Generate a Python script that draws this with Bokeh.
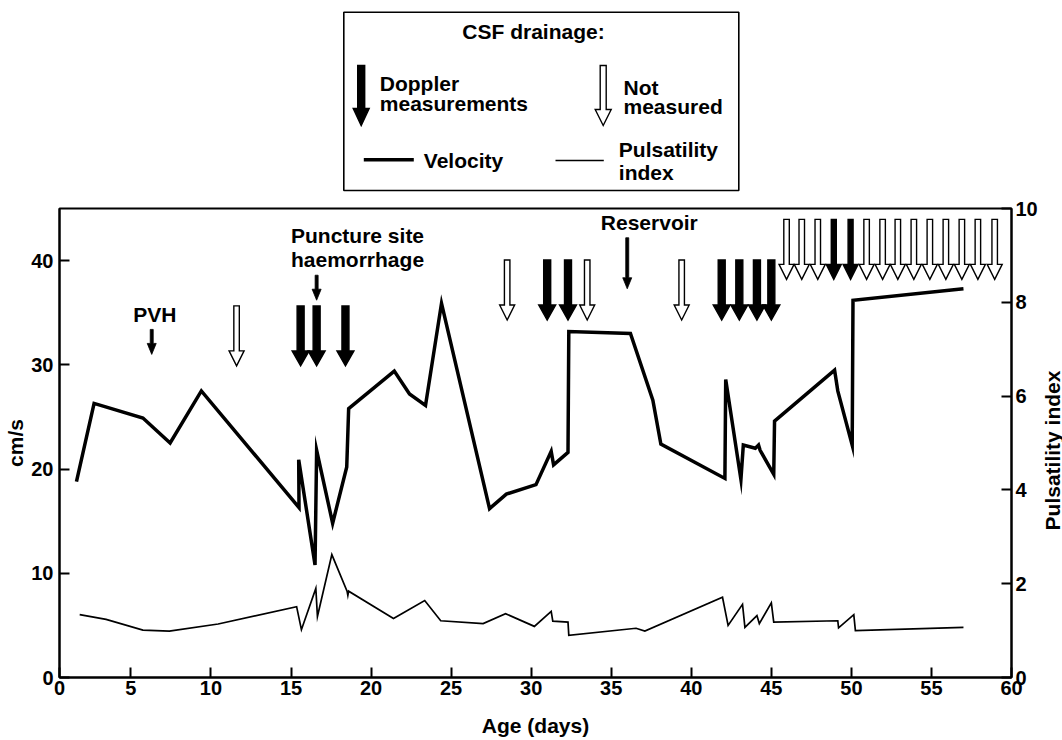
import math
from bokeh.plotting import figure
from bokeh.models import Range1d, LinearAxis, FixedTicker
from bokeh.layouts import column, row
from bokeh.embed import file_html
from bokeh.resources import INLINE
from bokeh.core.properties import value

# ---------------- data ----------------
vel_day = [1.6, 2.7, 5.75, 7.45, 9.4, 15.5, 15.48, 16.5, 16.6, 17.6, 18.48, 18.6,
           21.45, 22.4, 23.4, 24.4, 27.4, 28.45, 30.3, 31.25, 31.4, 32.3, 32.35,
           36.2, 37.6, 38.1, 42.1, 42.15, 43.1, 43.25, 44.0, 44.2, 44.3, 45.15,
           45.2, 48.95, 49.15, 50.05, 50.1, 57.0]
velocity = [18.8, 26.3, 24.9, 22.5, 27.5, 16.3, 20.9, 10.8, 21.8, 14.8, 20.2, 25.8,
            29.4, 27.2, 26.1, 35.9, 16.2, 17.6, 18.5, 21.7, 20.4, 21.6, 33.2,
            33.0, 26.6, 22.4, 19.1, 28.6, 19.0, 22.3, 22.0, 22.3, 21.8, 19.5,
            24.6, 29.5, 27.5, 22.3, 36.2, 37.3]

pi_day = [1.8, 3.45, 5.75, 7.4, 10.45, 15.35, 15.65, 16.55, 16.65, 17.55, 18.5,
          18.55, 18.6, 21.4, 23.35, 24.35, 27.0, 28.4, 30.2, 31.25, 31.35, 32.3,
          32.35, 36.55, 37.1, 41.95, 42.3, 43.2, 43.35, 44.1, 44.25, 45.0, 45.15,
          49.15, 49.2, 50.15, 50.25, 57.0]
pulsatility = [1.34, 1.24, 1.01, 0.99, 1.14, 1.51, 1.02, 1.90, 1.30, 2.62, 1.84,
               1.75, 1.84, 1.26, 1.64, 1.21, 1.15, 1.36, 1.09, 1.41, 1.20, 1.18,
               0.90, 1.05, 0.99, 1.71, 1.11, 1.56, 1.07, 1.32, 1.15, 1.59, 1.18,
               1.21, 1.06, 1.34, 1.00, 1.07]

# CSF drainage days; True = Doppler measurements, False = not measured
drain_day = [11.6, 15.6, 16.6, 18.4, 28.5, 31.0, 32.3, 33.5, 39.4, 41.9, 43.0,
             44.1, 45.0, 45.95, 46.9, 47.9, 48.9, 49.95, 50.95, 51.95, 52.9, 53.9,
             54.9, 55.9, 56.9, 57.9, 58.95]
drain_doppler = [False, True, True, True, False, True, True, False, False, True,
                 True, True, True, False, False, False, True, True, False, False,
                 False, False, False, False, False, False, False]

event_day = [6.3, 16.6, 36.0]
event_label = [["PVH"], ["Puncture site", "haemorrhage"], ["Reservoir"]]

x_ticks = [0, 5, 10, 15, 20, 25, 30, 35, 40, 45, 50, 55, 60]
v_ticks = [0, 10, 20, 30, 40]
pi_ticks = [0, 2, 4, 6, 8, 10]

# ---------------- layout constants ----------------
FONT = "Liberation Sans"
W_ALL = 1062
W_TITLE = 22
W = W_ALL - W_TITLE
LEG_H = 198
MAIN_H = 542
ML, MT, MB = 59, 10, 63
FRAME_R = 1012
MR = W - FRAME_R
FW = FRAME_R - ML
FH = MAIN_H - MT - MB
X_START = 0.54          # the drawn axis line sits a little right of day 0
PX = FW / (60 - X_START)
PY = FH / 45.0
TXT_UP = 8.0            # baseline correction, px


def arrow_xy(cx, tip, length, shaft, head_w, head_h, sx=1.0, sy=1.0, down=1.0):
    """Downward block arrow; sizes in px, converted by sx/sy px-per-unit."""
    a = shaft / 2 / sx
    h = head_w / 2 / sx
    top = tip + down * length / sy
    base = tip + down * head_h / sy
    xs = [cx - a, cx + a, cx + a, cx + h, cx, cx - h, cx - a]
    ys = [top, top, base, base, tip, base, base]
    return xs, ys


# ---------------- legend figure (coordinates = page pixels) ----------------
lg = figure(width=W_ALL, height=LEG_H, x_range=Range1d(ML, FRAME_R),
            y_range=Range1d(LEG_H, 0),
            output_backend="svg", toolbar_location=None,
            x_axis_location=None, y_axis_location=None,
            min_border_left=ML, min_border_right=W_ALL - FRAME_R,
            min_border_top=0, min_border_bottom=0)
lg.grid.visible = False
lg.outline_line_color = None

lg.quad(left=[343.3], right=[738.3], top=[11.7], bottom=[190], fill_color=None,
        line_color="black", line_width=1.6)

fx, fy = arrow_xy(360.7, 125, 60, 7, 16, 17, down=-1.0)
ox, oy = arrow_xy(602.7, 125, 60, 6, 16, 16, down=-1.0)
lg.patches(xs=[fx, ox], ys=[fy, oy], fill_color=["black", "white"],
           line_color="black", line_width=1.4, line_join="miter")
lg.line(x=[363.3, 413.3], y=[159.3, 159.3], line_color="black", line_width=3.5)
lg.line(x=[555, 603.3], y=[160, 160], line_color="black", line_width=1.6)

leg_text = ["CSF drainage:", "Doppler", "measurements", "Not", "measured",
            "Velocity", "Pulsatility", "index"]
leg_x = [533, 379.3, 379.3, 623, 623, 423.3, 618.3, 618.3]
leg_y = [39.3, 90.7, 111, 95, 114, 168.3, 157, 179.5]
leg_align = ["center", "left", "left", "left", "left", "left", "left", "left"]
lg.text(x=leg_x, y=[v - TXT_UP for v in leg_y], text=leg_text, text_align=leg_align,
        text_baseline="alphabetic", text_font=value(FONT), text_font_style="bold",
        text_font_size="21px", text_color="black")

# ---------------- main figure ----------------
p = figure(width=W, height=MAIN_H, x_range=Range1d(X_START, 60), y_range=Range1d(0, 45),
           output_backend="svg", toolbar_location=None,
           min_border_left=ML, min_border_right=MR, min_border_top=MT, min_border_bottom=MB)
p.extra_y_ranges = {"pi": Range1d(0, 10)}
p.grid.visible = False
p.outline_line_color = "black"
p.outline_line_width = 2
p.background_fill_color = "white"

right = LinearAxis(y_range_name="pi", ticker=FixedTicker(ticks=pi_ticks))
p.add_layout(right, "right")

bx_ticks = [X_START] + x_ticks[1:]
p.xaxis.ticker = FixedTicker(ticks=bx_ticks)
p.xaxis.major_label_overrides = {X_START: str(x_ticks[0])}
p.xaxis.axis_label = "Age (days)"
p.yaxis[0].ticker = FixedTicker(ticks=v_ticks)
p.yaxis[0].axis_label = "cm/s"

for ax in p.axis:
    ax.axis_line_width = 2
    ax.axis_line_color = "black"
    ax.major_tick_line_width = 2
    ax.major_tick_line_color = "black"
    ax.major_tick_in = 10
    ax.major_tick_out = 0
    ax.minor_tick_line_color = None
    ax.major_label_text_font = FONT
    ax.major_label_text_font_style = "bold"
    ax.major_label_text_font_size = "20px"
    ax.major_label_text_color = "black"
    ax.axis_label_text_font = FONT
    ax.axis_label_text_font_style = "bold"
    ax.axis_label_text_font_size = "21px"
    ax.axis_label_text_color = "black"

p.yaxis[0].major_label_standoff = 6
p.yaxis[0].axis_label_standoff = 1
right.major_label_standoff = 4
p.xaxis.major_label_standoff = 3
p.xaxis.axis_label_standoff = 16

# data lines
p.line(x=vel_day, y=velocity, line_color="black", line_width=3.5, line_join="miter")
p.line(x=pi_day, y=pulsatility, y_range_name="pi", line_color="black",
       line_width=1.7, line_join="miter")

# drainage arrows (three rows)
row_tip = [29.9, 34.3, 38.2]
axs, ays, afill = [], [], []
for d, m in zip(drain_day, drain_doppler):
    r = 0 if d < 20 else (1 if d < 45.5 else 2)
    if m:
        xs, ys = arrow_xy(d, row_tip[r], 60, 7 if r < 2 else 5, 17 if r < 2 else 15, 15, PX, PY)
    else:
        xs, ys = arrow_xy(d, row_tip[r], 60, 5.5, 15, 15, PX, PY)
    axs.append(xs)
    ays.append(ys)
    afill.append("black" if m else "white")
p.patches(xs=axs, ys=ays, fill_color=afill, line_color="black", line_width=1.4,
          line_join="miter")

# event arrows and labels
ev_tip = [31.0, 36.2, 37.3]
ev_len = [25, 25, 51]
exs, eys = [], []
for d, t, L in zip(event_day, ev_tip, ev_len):
    xs, ys = arrow_xy(d, t, L, 3, 9, 11, PX, PY)
    exs.append(xs)
    eys.append(ys)
p.patches(xs=exs, ys=eys, fill_color="black", line_color="black", line_width=0.8)

lab_x = [6.5, 15.0, 15.0, 34.35]
lab_y = [34.1, 41.6, 39.35, 42.9]
lab_t = [event_label[0][0], event_label[1][0], event_label[1][1], event_label[2][0]]
lab_a = ["center", "left", "left", "left"]
p.text(x=lab_x, y=[v + TXT_UP / PY for v in lab_y], text=lab_t, text_align=lab_a,
       text_baseline="alphabetic",
       text_font=value(FONT), text_font_style="bold", text_font_size="21px",
       text_color="black")

# ---------------- right-axis title strip (coordinates = page pixels) ----------------
tf = figure(width=W_TITLE, height=MAIN_H, x_range=Range1d(W, W_ALL),
            y_range=Range1d(LEG_H + MT + FH, LEG_H + MT),
            output_backend="svg", toolbar_location=None,
            x_axis_location=None, y_axis_location=None,
            min_border_left=0, min_border_right=0, min_border_top=MT, min_border_bottom=MB)
tf.grid.visible = False
tf.outline_line_color = None
tf.text(x=[1051.5], y=[450], text=["Pulsatility index"], angle=math.pi / 2,
        text_align="center", text_baseline="middle", text_font=value(FONT),
        text_font_style="bold", text_font_size="21px", text_color="black")

layout = column(lg, row(p, tf))
open("out.html", "w").write(file_html(layout, INLINE))
